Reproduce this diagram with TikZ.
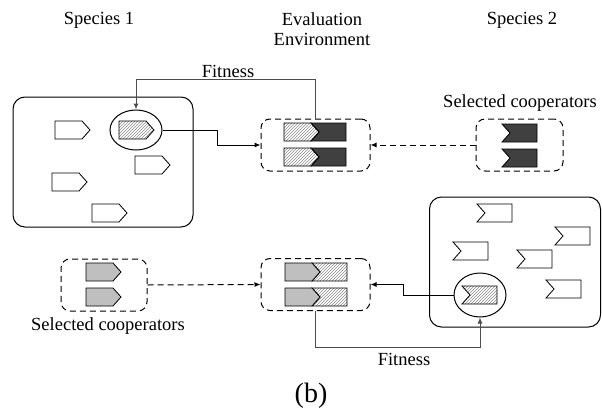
\documentclass[tikz,border=0pt]{standalone}
\usepackage{fontspec}
\setmainfont{Liberation Serif}
\newfontfamily\timesfam{Liberation Serif}
\usetikzlibrary{arrows.meta,patterns,shapes.geometric}

\tikzset{
    lbl/.style={font=\timesfam\fontsize{18.5}{18}\selectfont, inner sep=0pt},
    popbox/.style={draw, line width=1pt, rounded corners=12pt, inner sep=0pt},
    envbox/.style={draw, line width=1pt, dash pattern=on 6pt off 4pt, rounded corners=9pt,
                   minimum width=109pt, minimum height=52pt, inner sep=0pt},
    selell/.style={draw, ellipse, line width=1pt, inner sep=0pt},
    hatch/.style={pattern=north east lines, pattern color=black!45},
    conn/.style={line width=1pt, -{Latex[length=6pt,width=5pt]}},
    fitconn/.style={conn, draw=black!70},
    coopconn/.style={conn, dash pattern=on 6pt off 4pt},
    pent/.pic={\draw[line width=0.8pt, pic actions] (0,0) -- (27,0) -- (35,9) -- (27,18) -- (0,18) -- cycle;},
    chev/.pic={\draw[line width=0.8pt, pic actions] (0,0) -- (35,0) -- (35,18) -- (0,18) -- (8,9) -- cycle;}
}

\begin{document}
\begin{tikzpicture}[x=1pt, y=-1pt]
    \useasboundingbox (0,0) rectangle (602,415);

    % Titoli delle colonne
    \node[lbl] (sp1) at (99,20) {Species 1};
    \node[lbl, align=center] (evt) at (322,29) {Evaluation\\[2pt]Environment};
    \node[lbl] (sp2) at (522,20) {Species 2};

    % Popolazione della specie 1
    \node[popbox, minimum width=180pt, minimum height=130pt] (pop1) at (103,162) {};
    \pic at (55,121) {pent};
    \pic at (135,156) {pent};
    \pic at (52,173) {pent};
    \pic at (92,204) {pent};
    \pic[hatch] at (119,121) {pent};
    \node[selell, minimum width=52pt, minimum height=40pt] (sel1) at (136,130) {};

    % Popolazione della specie 2
    \node[popbox, minimum width=171pt, minimum height=130pt] (pop2) at (515,262) {};
    \pic at (477,204) {chev};
    \pic at (453,242) {chev};
    \pic at (517,250) {chev};
    \pic at (555,227) {chev};
    \pic at (546,280) {chev};
    \pic[hatch] at (462,286) {chev};
    \node[selell, minimum width=52pt, minimum height=44pt] (sel2) at (480,295) {};

    % Ambiente di valutazione (alto)
    \node[envbox] (env1) at (315.5,145) {};
    \foreach \y in {123,148} {
        \pic[fill=black!75] at (311,\y) {chev};
        \pic[hatch] at (284,\y) {pent};
    }

    % Ambiente di valutazione (basso)
    \node[envbox] (env2) at (315.5,284.5) {};
    \foreach \y in {263,288} {
        \pic[hatch] at (312,\y) {chev};
        \pic[fill=black!25] at (285,\y) {pent};
    }

    % Cooperatori selezionati
    \node[envbox, minimum width=87pt] (coop2) at (519.5,145) {};
    \foreach \y in {124,149} \pic[fill=black!75] at (502,\y) {chev};
    \node[lbl] (cl2) at (520,103) {Selected cooperators};

    \node[envbox, minimum width=86pt] (coop1) at (104,285) {};
    \foreach \y in {263,288} \pic[fill=black!25] at (86,\y) {pent};
    \node[lbl] (cl1) at (108,326) {Selected cooperators};

    % Collegamenti
    \draw[fitconn] (env1.north) -- ++(0,-39) -| (sel1.north);
    \node[lbl] (fit1) at (228,71) {Fitness};
    \draw[conn] (sel1.east) -- ++(55,0) |- (env1.west);
    \draw[coopconn] (coop2.west) -- (env1.east);

    \draw[coopconn] (coop1.east) -- (env2.west);
    \draw[conn] (sel2.west) -- ++(-50,0) |- (env2.east);
    \draw[fitconn] (env2.south) -- ++(0,36) -| (sel2.south);
    \node[lbl] (fit2) at (404,359) {Fitness};

    \node[font=\timesfam\fontsize{28}{30}\selectfont, inner sep=0pt] (cap) at (311,396) {(b)};
\end{tikzpicture}
\end{document}
